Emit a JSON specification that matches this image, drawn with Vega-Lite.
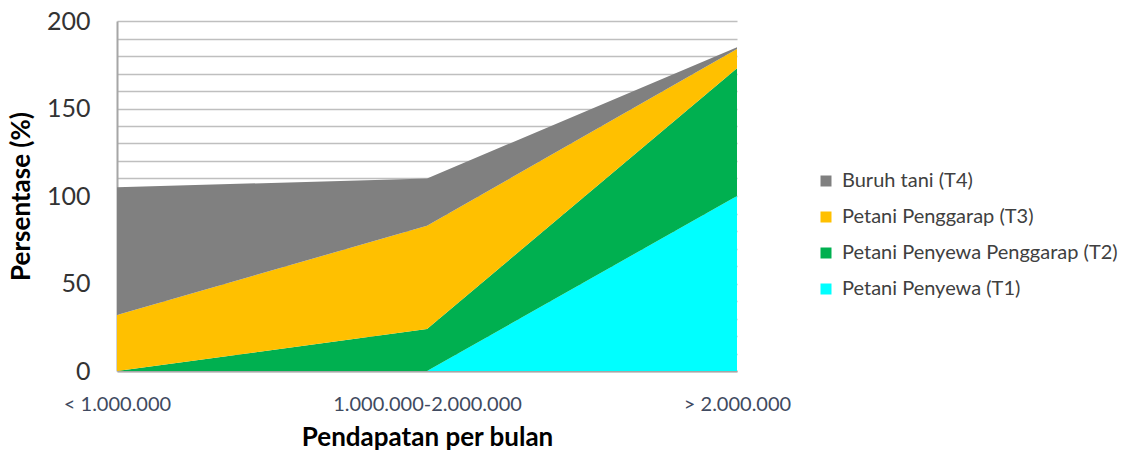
{
  "$schema": "https://vega.github.io/schema/vega-lite/v6.json",
  "width": 620,
  "height": 350,
  "autosize": {"type": "none"},
  "padding": {"left": 117, "top": 21, "right": 391, "bottom": 90},
  "background": "white",
  "config": {
    "font": "Lato",
    "view": {"stroke": null}
  },
  "data": {
    "values": [
      {"pendapatan": "< 1.000.000", "kode": "T1", "kelompok": "Petani Penyewa (T1)", "persen": 0},
      {"pendapatan": "< 1.000.000", "kode": "T2", "kelompok": "Petani Penyewa Penggarap (T2)", "persen": 0},
      {"pendapatan": "< 1.000.000", "kode": "T3", "kelompok": "Petani Penggarap (T3)", "persen": 32},
      {"pendapatan": "< 1.000.000", "kode": "T4", "kelompok": "Buruh tani (T4)", "persen": 73},
      {"pendapatan": "1.000.000-2.000.000", "kode": "T1", "kelompok": "Petani Penyewa (T1)", "persen": 0},
      {"pendapatan": "1.000.000-2.000.000", "kode": "T2", "kelompok": "Petani Penyewa Penggarap (T2)", "persen": 24},
      {"pendapatan": "1.000.000-2.000.000", "kode": "T3", "kelompok": "Petani Penggarap (T3)", "persen": 59},
      {"pendapatan": "1.000.000-2.000.000", "kode": "T4", "kelompok": "Buruh tani (T4)", "persen": 27},
      {"pendapatan": "> 2.000.000", "kode": "T1", "kelompok": "Petani Penyewa (T1)", "persen": 100},
      {"pendapatan": "> 2.000.000", "kode": "T2", "kelompok": "Petani Penyewa Penggarap (T2)", "persen": 73},
      {"pendapatan": "> 2.000.000", "kode": "T3", "kelompok": "Petani Penggarap (T3)", "persen": 11},
      {"pendapatan": "> 2.000.000", "kode": "T4", "kelompok": "Buruh tani (T4)", "persen": 1}
    ]
  },
  "mark": {"type": "area", "interpolate": "linear", "opacity": 1},
  "encoding": {
    "x": {
      "field": "pendapatan",
      "type": "ordinal",
      "sort": ["< 1.000.000", "1.000.000-2.000.000", "> 2.000.000"],
      "scale": {"type": "point", "padding": 0},
      "axis": {
        "title": "Pendapatan per bulan",
        "titleFontSize": 26,
        "titleFontWeight": "bold",
        "titleColor": "#000000",
        "titlePadding": 10,
        "labelAngle": 0,
        "labelFontSize": 20,
        "labelColor": "#404a60",
        "labelPadding": 23,
        "labelLimit": 400,
        "ticks": false,
        "domain": true,
        "domainColor": "#a6a6a6",
        "domainWidth": 2,
        "grid": false
      }
    },
    "y": {
      "field": "persen",
      "type": "quantitative",
      "stack": "zero",
      "scale": {"domain": [0, 200], "nice": false},
      "axis": {
        "title": "Persentase (%)",
        "titleFontSize": 26,
        "titleFontWeight": "bold",
        "titleColor": "#000000",
        "titlePadding": 12,
        "values": [0, 10, 20, 30, 40, 50, 60, 70, 80, 90, 100, 110, 120, 130, 140, 150, 160, 170, 180, 190, 200],
        "labelExpr": "datum.value % 50 === 0 ? datum.label : ''",
        "labelFontSize": 25,
        "labelColor": "#333333",
        "labelPadding": 27,
        "ticks": false,
        "domain": true,
        "domainColor": "#a6a6a6",
        "domainWidth": 2,
        "grid": true,
        "gridColor": "#bfbfbf",
        "gridWidth": 1.5
      }
    },
    "color": {
      "field": "kelompok",
      "type": "nominal",
      "scale": {
        "domain": ["Buruh tani (T4)", "Petani Penggarap (T3)", "Petani Penyewa Penggarap (T2)", "Petani Penyewa (T1)"],
        "range": ["#808080", "#FFC000", "#00B050", "#00FFFF"]
      },
      "legend": {
        "title": null,
        "orient": "none",
        "legendX": 699,
        "legendY": 150,
        "symbolType": "square",
        "symbolSize": 121,
        "symbolStrokeWidth": 0,
        "symbolOpacity": 1,
        "labelFontSize": 20,
        "labelLimit": 400,
        "labelColor": "#404040",
        "rowPadding": 16,
        "labelOffset": 6
      }
    },
    "order": {"field": "kode", "sort": "ascending"}
  }
}
